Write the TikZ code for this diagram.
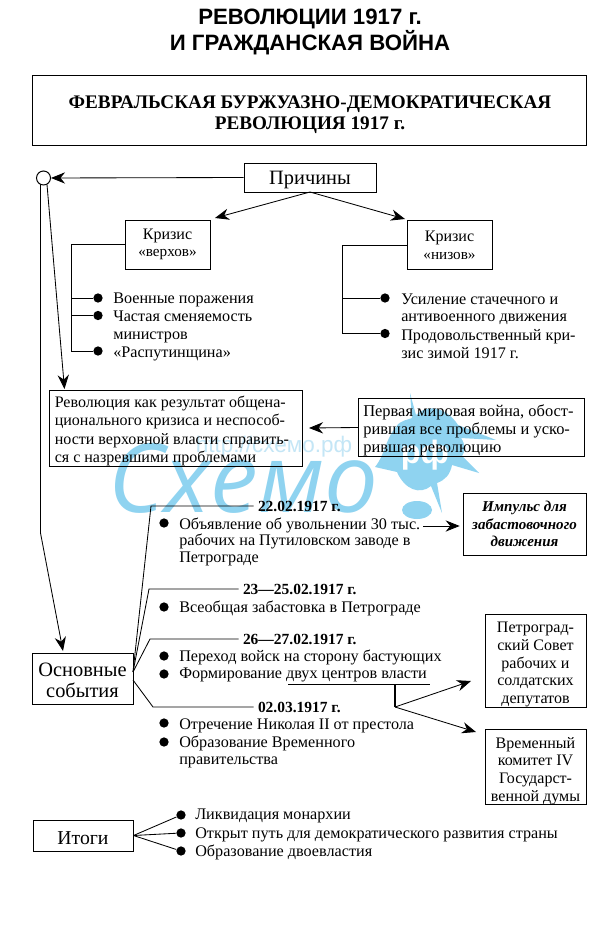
\documentclass[tikz,border=0pt]{standalone}
\usepackage{fontspec}
\setmainfont{Liberation Serif}
\newfontfamily\titlefont{Liberation Sans}
\newfontfamily\markfont{Open Sans}
\usetikzlibrary{arrows, arrows.meta}
\definecolor{skyblot}{HTML}{8FD3F0}
\definecolor{urlblue}{HTML}{C4E6F6}
\tikzset{
  boxnode/.style={draw,line width=0.7pt,inner sep=0pt,align=center,font=\fontsize{11.4}{12.6}\selectfont},
  boxtext/.style={inner sep=0pt,align=center,font=\fontsize{11.4}{12.6}\selectfont},
  itemtext/.style={anchor=west,inner sep=0pt,yshift=-1pt,align=left,font=\fontsize{11.5}{12.6}\selectfont},
  datetext/.style={anchor=west,inner ysep=0pt,inner xsep=3pt,font=\fontsize{11}{12.6}\selectfont\bfseries},
  dotnode/.style={circle,fill=black,minimum size=6.6pt,inner sep=0pt},
  line/.style={line width=0.6pt},
  arrowline/.style={line width=0.6pt,-{Stealth[length=10pt,width=8pt]}}
}

\begin{document}
\begin{tikzpicture}[x=0.025cm,y=-0.025cm]
\useasboundingbox (0,0) rectangle (600,944);
\fill[white] (0,0) rectangle (600,944);

%watermark
\fill[skyblot] (410,393) -- (416,415) .. controls (425,405) and (445,405) .. (458,425)
  -- (496,440) -- (461,438) .. controls (466,445) and (465,452) .. (462,456)
  -- (479,473) -- (452,465) .. controls (450,475) and (445,480) .. (437,483)
  -- (442,513) -- (431,486) .. controls (420,495) and (405,490) .. (397,472)
  -- (375,467) .. controls (385,455) and (385,440) .. (396,427)
  .. controls (400,420) and (408,420) .. (412,418) -- cycle;
\fill[skyblot] (417,510) ellipse (15 and 9);
\node[text=skyblot,font=\markfont\fontsize{68}{68}\selectfont\itshape,anchor=base west,inner sep=0pt] (mark) at (108,512) {Схемо};
\node[text=urlblue,font=\titlefont\fontsize{16}{16}\selectfont,inner sep=0pt] (url) at (274,447) {http://схемо.рф};
\node[text=white,font=\titlefont\fontsize{23}{23}\selectfont\bfseries,inner sep=0pt] (rf) at (425,455) {рф};

%title
\node[align=center,font=\titlefont\fontsize{15.8}{18.3}\selectfont\bfseries,inner sep=0pt] (title) at (310,32) {РЕВОЛЮЦИИ 1917 г.\\И ГРАЖДАНСКАЯ ВОЙНА};
\node[boxnode,minimum width=554*0.025cm,minimum height=70*0.025cm] (fevr) at (309,110.5) {};
\node[boxtext,font=\fontsize{13.65}{15}\selectfont\bfseries] (fevrt) at (310,115) {ФЕВРАЛЬСКАЯ БУРЖУАЗНО-ДЕМОКРАТИЧЕСКАЯ\\РЕВОЛЮЦИЯ 1917 г.};

%causes
\node[boxnode,minimum width=132*0.025cm,minimum height=29*0.025cm,text height=12.5pt,font=\fontsize{14.5}{16}\selectfont] (prich) at (310,177.5) {Причины};
\node[draw,circle,line width=0.7pt,minimum size=14*0.025cm,inner sep=0pt] (krug) at (43.5,178) {};
\node[boxnode,minimum width=85*0.025cm,minimum height=49*0.025cm] (verh) at (167.5,244.5) {Кризис\\{\fontsize{10.8}{12}\selectfont «верхов»}};
\node[boxnode,minimum width=85*0.025cm,minimum height=49*0.025cm] (niz) at (449.5,245) {Кризис\\{\fontsize{10.8}{12}\selectfont «низов»}};
\coordinate (prichbot) at (310,192);
\coordinate (verhtip) at (215,218);
\coordinate (niztip) at (405,219);
\draw[arrowline] (prich.west) -- (krug.east);
\draw[arrowline] (prichbot) -- (verhtip);
\draw[arrowline] (prichbot) -- (niztip);

\node[dotnode] (v1) at (98,298) {};
\node[dotnode] (v2) at (98,315.5) {};
\node[dotnode] (v3) at (98,351) {};
\node[itemtext] (vt1) at (113,298.5) {Военные поражения};
\node[itemtext] (vt2) at (113,325.5) {Частая сменяемость\\министров};
\node[itemtext] (vt3) at (113,352.5) {«Распутинщина»};
\coordinate (vtrunk) at (71,351);
\draw[line] (verh.west) -| (vtrunk) -- (v3);
\draw[line] (vtrunk |- v1) -- (v1);
\draw[line] (vtrunk |- v2) -- (v2);

\node[dotnode] (n1) at (385,298) {};
\node[dotnode] (n2) at (385,333.5) {};
\node[itemtext] (nt1) at (401,308) {Усиление стачечного и\\антивоенного движения};
\node[itemtext] (nt2) at (401,342.5) {Продовольственный кри-\\зис зимой 1917 г.};
\coordinate (ntrunk) at (342,333.5);
\draw[line] (niz.west) -| (ntrunk) -- (n2);
\draw[line] (ntrunk |- n1) -- (n1);

%revolution
\node[boxnode,minimum width=253*0.025cm,minimum height=76*0.025cm,anchor=north west] (revol) at (49,390) {};
\node[itemtext,font=\fontsize{11.4}{12.9}\selectfont] (revolt) at (54.5,429.5) {Революция как результат общена-\\ционального кризиса и неспособ-\\ности верховной власти справить-\\ся с назревшими проблемами};
\node[boxnode,minimum width=226*0.025cm,minimum height=58*0.025cm,anchor=north west] (voina) at (358,398) {};
\node[itemtext,font=\fontsize{11.7}{12.8}\selectfont] (voinat) at (363,428.5) {Первая мировая война, обост-\\рившая все проблемы и уско-\\рившая революцию};
\coordinate (revoltip) at (309,428);
\draw[arrowline] (voina.west) -- (revoltip);

%left trunk lines
\coordinate (krugl) at (40.5,184.5);
\coordinate (krugr) at (47,184.5);
\coordinate (bend) at (40.5,533);
\coordinate (sobtip) at (63,651);
\coordinate (revtip) at (64.5,389);
\draw[arrowline] (krugl) -- (bend) -- (sobtip);
\draw[arrowline] (krugr) -- (revtip);

%events
\node[boxnode,minimum width=101*0.025cm,minimum height=51*0.025cm] (sob) at (82.5,678.5) {};
\node[boxtext,font=\fontsize{14.5}{15}\selectfont] (sobt) at (82.5,680.5) {Основные\\события};
\coordinate (sobhub) at (133,672);
\coordinate (sobhubb) at (133,680);

\node[datetext] (d1) at (253.5,506) {22.02.1917 г.};
\node[dotnode] (d1a) at (164,523) {};
\node[itemtext,font=\fontsize{11.5}{11.9}\selectfont] (d1t) at (179,540.5) {Объявление об увольнении 30 тыс.\\рабочих на Путиловском заводе в\\Петрограде};
\draw[line] (sobhub) -- (151,506) -- (d1.west);

\node[boxnode,minimum width=123*0.025cm,minimum height=62*0.025cm,font=\fontsize{10.7}{12.4}\selectfont\bfseries\itshape] (imp) at (524.5,524) {Импульс для\\забастовочного\\движения};
\coordinate (impstart) at (423,526);
\draw[arrowline] (impstart) -- ([xshift=-2pt]imp.west |- impstart);

\node[datetext] (d2) at (238.5,589) {23—25.02.1917 г.};
\node[dotnode] (d2a) at (164,607) {};
\node[itemtext] (d2t) at (179,607) {Всеобщая забастовка в Петрограде};
\draw[line] (sobhub) -- (149,589) -- (d2.west);

\node[datetext] (d3) at (238.5,639) {26—27.02.1917 г.};
\node[dotnode] (d3a) at (164,656) {};
\node[dotnode] (d3b) at (164,674) {};
\node[itemtext] (d3t) at (179,656) {Переход войск на сторону бастующих};
\node[itemtext] (d3u) at (179,674) {Формирование двух центров власти};
\draw[line] (sobhub) -- (150,639) -- (d3.west);

\coordinate (ulstart) at (288,684.5);
\coordinate (ulend) at (430,684.5);
\coordinate (fork) at (395,707);
\draw[line] (ulstart) -- (ulend);
\draw[line,line width=0.9pt] (fork |- ulstart) -- (fork);

\node[datetext] (d4) at (253.5,707) {02.03.1917 г.};
\node[dotnode] (d4a) at (164,723) {};
\node[dotnode] (d4b) at (164,742) {};
\node[itemtext] (d4t) at (179,724) {Отречение Николая II от престола};
\node[itemtext] (d4u) at (179,750.5) {Образование Временного\\правительства};
\draw[line] (sobhubb) -- (153,707) -- (d4.west);

\node[boxnode,minimum width=101*0.025cm,minimum height=93*0.025cm] (sovet) at (535.5,660.5) {};
\node[boxtext] (sovett) at (535.5,664.5) {Петроград-\\ский Совет\\рабочих и\\солдатских\\депутатов};
\node[boxnode,minimum width=101*0.025cm,minimum height=75*0.025cm] (komit) at (535.5,766.5) {};
\node[boxtext] (komitt) at (535.5,771) {Временный\\комитет IV\\Государст-\\венной думы};
\coordinate (sovettip) at (471,681);
\coordinate (komittip) at (476,732);
\draw[arrowline] (fork) -- (sovettip);
\draw[arrowline] (fork) -- (komittip);

%results
\node[boxnode,minimum width=100*0.025cm,minimum height=31*0.025cm,text height=12.5pt,font=\fontsize{14}{16}\selectfont] (itogi) at (83,835.5) {Итоги};
\node[dotnode] (r1) at (181,815) {};
\node[dotnode] (r2) at (181,833) {};
\node[dotnode] (r3) at (181,851) {};
\node[itemtext] (rt1) at (195,815) {Ликвидация монархии};
\node[itemtext] (rt2) at (195,833) {Открыт путь для демократического развития страны};
\node[itemtext] (rt3) at (195,851) {Образование двоевластия};
\draw[line] (itogi.east) -- (r1);
\draw[line] (itogi.east) -- (r2);
\draw[line] (itogi.east) -- (r3);
\end{tikzpicture}
\end{document}
